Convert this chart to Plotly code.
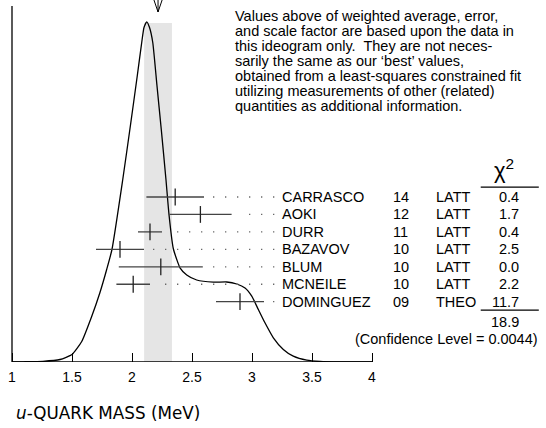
import plotly.graph_objects as go

# ---------------- data ----------------
# ideogram curve (x in MeV, height in arbitrary units)
curve_x = [1.000, 1.092, 1.258, 1.400, 1.500, 1.581, 1.664, 1.733, 1.789, 1.833,
           1.923, 1.988, 2.042, 2.081, 2.100, 2.123, 2.146, 2.173, 2.208, 2.244,
           2.283, 2.308, 2.344, 2.373, 2.400, 2.456, 2.539, 2.678, 2.789, 2.873,
           2.942, 2.998, 3.053, 3.108, 3.178, 3.261, 3.344, 3.456, 3.567, 3.733, 4.000]
curve_y = [0.0, 0.2, 0.7, 2.5, 7.5, 20.5, 45.5, 69.5, 92.5, 112.5,
           182.5, 237.5, 284.5, 319.5, 334.5, 340.2, 334.5, 319.5, 276.5, 232.5,
           182.5, 147.8, 113.5, 102.5, 94.2, 87.0, 82.0, 79.8, 80.0, 78.0,
           74.0, 65.8, 52.5, 39.2, 24.2, 12.5, 5.8, 1.8, 0.5, 0.0, 0.0]

names = ["CARRASCO", "AOKI", "DURR", "BAZAVOV", "BLUM", "MCNEILE", "DOMINGUEZ"]
years = ["14", "12", "11", "10", "10", "10", "09"]
techs = ["LATT", "LATT", "LATT", "LATT", "LATT", "LATT", "THEO"]
values = [2.36, 2.57, 2.15, 1.90, 2.24, 2.01, 2.90]
errors = [0.24, 0.26, 0.10, 0.20, 0.35, 0.14, 0.20]
chi2 = ["0.4", "1.7", "0.4", "2.5", "0.0", "2.2", "11.7"]
chi2_total = "18.9"
conf_text = "(Confidence Level = 0.0044)"

avg = 2.217
avg_err = 0.116
band_top = 339.0

tick_vals = [1, 1.5, 2, 2.5, 3, 3.5, 4]
tick_text = ["1", "1.5", "2", "2.5", "3", "3.5", "4"]

note_lines = [
    "Values above of weighted average, error,",
    "and scale factor are based upon the data in",
    "this ideogram only.\u00a0 They are not neces-",
    "sarily the same as our \u2018best\u2019 values,",
    "obtained from a least-squares constrained fit",
    "utilizing measurements of other (related)",
    "quantities as additional information.",
]

FONT = "Liberation Sans, Arial, Helvetica, sans-serif"
rows = list(range(len(names)))

fig = go.Figure()

# weighted-average band
fig.add_shape(type="rect", xref="x", yref="y", x0=avg - avg_err, x1=avg + avg_err,
              y0=0, y1=band_top, fillcolor="#e5e5e5", line_width=0, layer="below")

# ideogram curve
fig.add_trace(go.Scatter(x=curve_x, y=curve_y, mode="lines",
                         line=dict(color="black", width=1.3, shape="spline", smoothing=0.5),
                         hoverinfo="skip", showlegend=False))

# axes lines
fig.add_trace(go.Scatter(x=[1, 1], y=[0, 356], mode="lines", line=dict(color="black", width=1.3),
                         cliponaxis=False, showlegend=False, hoverinfo="skip"))
fig.add_trace(go.Scatter(x=[1, 4], y=[0, 0], mode="lines", line=dict(color="black", width=1.3),
                         cliponaxis=False, showlegend=False, hoverinfo="skip"))

# arrow at weighted average
fig.add_trace(go.Scatter(x=[avg - 0.034, avg, avg + 0.034, None, avg, avg],
                         y=[362, 350, 362, None, 362, 350], mode="lines",
                         line=dict(color="black", width=1), cliponaxis=False,
                         showlegend=False, hoverinfo="skip"))

# dotted leader lines
dot_end = 3.186
for r, v, e in zip(rows, values, errors):
    fig.add_trace(go.Scatter(x=[dot_end, v + e + 0.075], y=[r, r], mode="lines",
                             yaxis="y2", line=dict(color="#666", width=1.3, dash="1.3px,10.7px"),
                             showlegend=False, hoverinfo="skip"))

# measurements
fig.add_trace(go.Scatter(x=values, y=rows, mode="markers", yaxis="y2",
                         error_x=dict(type="data", array=errors, width=0, thickness=1.3, color="#444"),
                         marker=dict(symbol="line-ns-open", size=12, color="#222",
                                     line=dict(color="#222", width=1.3)),
                         showlegend=False, hoverinfo="skip"))

ann = []
for i, line in enumerate(note_lines):
    ann.append(dict(x=2.842, y=346 - 15 * i, xref="x", yref="y", text=line, showarrow=False,
                    xanchor="left", yanchor="middle", font=dict(size=14.5, family=FONT, color="black")))

TS = 14.5
for r in rows:
    ann.append(dict(x=3.233, y=r, xref="x", yref="y2", text=names[r], showarrow=False,
                    xanchor="left", yanchor="middle", font=dict(size=TS, family=FONT, color="black")))
    ann.append(dict(x=4.158, y=r, xref="x", yref="y2", text=years[r], showarrow=False,
                    xanchor="left", yanchor="middle", font=dict(size=TS, family=FONT, color="black")))
    ann.append(dict(x=4.517, y=r, xref="x", yref="y2", text=techs[r], showarrow=False,
                    xanchor="left", yanchor="middle", font=dict(size=TS, family=FONT, color="black")))
    ann.append(dict(x=5.242, y=r, xref="x", yref="y2", text=chi2[r], showarrow=False,
                    xanchor="right", yanchor="middle", font=dict(size=TS, family=FONT, color="black")))

ann.append(dict(x=5.10, y=-1.6, xref="x", yref="y2", text="\u03c7<sup>2</sup>", showarrow=False,
                xanchor="center", yanchor="middle", font=dict(size=22, family=FONT, color="black")))
ann.append(dict(x=5.242, y=7.15, xref="x", yref="y2", text=chi2_total, showarrow=False,
                xanchor="right", yanchor="middle", font=dict(size=TS, family=FONT, color="black")))
ann.append(dict(x=5.40, y=8.15, xref="x", yref="y2", text=conf_text, showarrow=False,
                xanchor="right", yanchor="middle", font=dict(size=TS, family=FONT, color="black")))

# axis title
ann.append(dict(x=14 / 546, y=-0.14, xref="paper", yref="paper",
                text="<i>u</i>-QUARK MASS (MeV)", showarrow=False, xanchor="left", yanchor="middle",
                font=dict(size=16.8, family="DejaVu Sans, sans-serif", color="black")))

shapes = [
    dict(type="line", xref="x", yref="y2", x0=4.906, x1=5.39, y0=-0.56, y1=-0.56,
         line=dict(color="black", width=1.2)),
    dict(type="line", xref="x", yref="y2", x0=4.906, x1=5.39, y0=6.48, y1=6.48,
         line=dict(color="black", width=1.2)),
]
for s in shapes:
    fig.add_shape(**s)

fig.update_layout(
    width=546, height=428,
    margin=dict(l=0, r=0, t=0, b=66),
    paper_bgcolor="white", plot_bgcolor="white",
    showlegend=False,
    xaxis=dict(range=[0.9, 5.45], domain=[0, 1], showgrid=False, zeroline=False, showline=False,
               tickmode="array", tickvals=tick_vals, ticktext=tick_text,
               ticks="inside", ticklen=9, tickwidth=1.2, tickcolor="black",
               ticklabelstandoff=5,
               tickfont=dict(size=14, family=FONT, color="black"), fixedrange=True),
    yaxis=dict(range=[0, 362], visible=False, fixedrange=True),
    yaxis2=dict(range=[9.456, -11.289], overlaying="y", visible=False, fixedrange=True),
    annotations=ann,
)

fig.write_html("out.html", config={"displayModeBar": False},
               post_script="document.body.style.margin='0';document.body.style.overflow='hidden';")
